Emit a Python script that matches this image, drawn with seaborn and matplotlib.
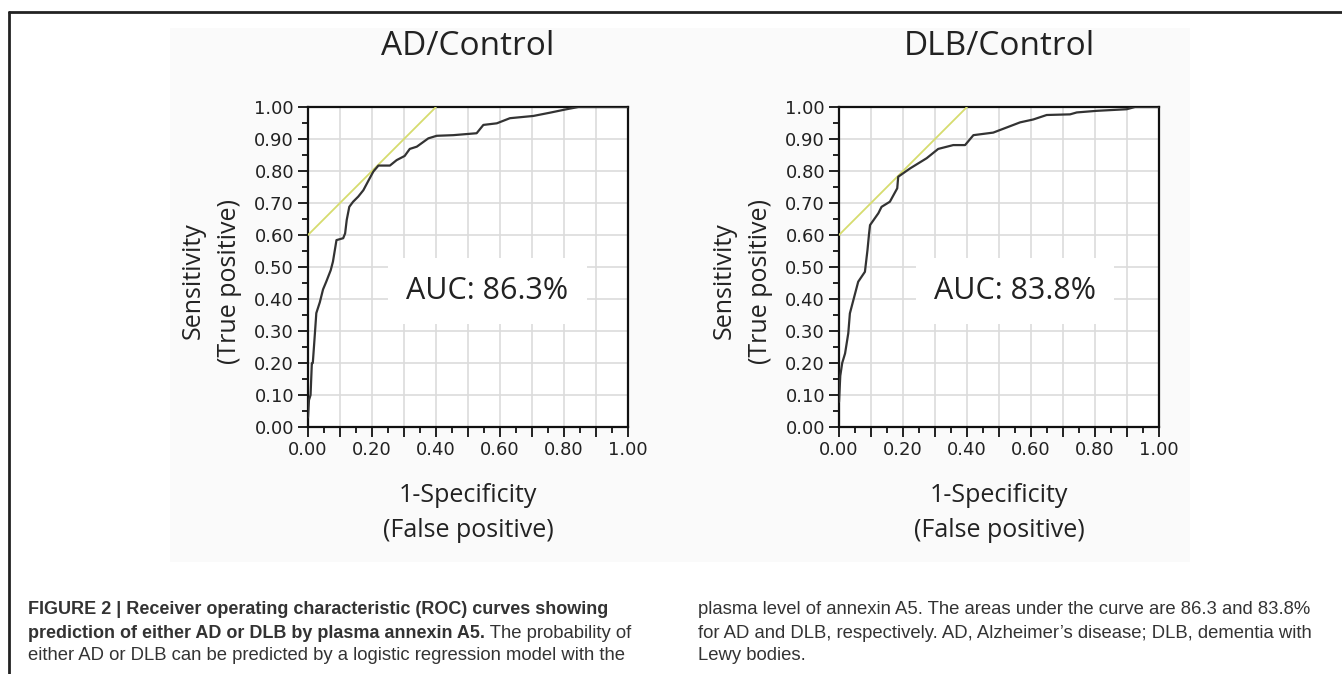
import matplotlib
matplotlib.use("Agg")

import matplotlib.pyplot as plt
from matplotlib.lines import Line2D
from matplotlib.patches import Rectangle
from matplotlib.ticker import MultipleLocator, FixedFormatter, FixedLocator
import pandas as pd
import seaborn as sns

# ROC points (false positive rate, true positive rate)
ad_fpr = [0.0, 0.0, 0.003, 0.008, 0.012, 0.015, 0.02, 0.026, 0.037, 0.047, 0.057, 0.071,
          0.078, 0.089, 0.11, 0.116, 0.121, 0.129, 0.141, 0.157, 0.173, 0.19, 0.204,
          0.22, 0.256, 0.277, 0.302, 0.318, 0.34, 0.376, 0.402, 0.454, 0.527, 0.548,
          0.59, 0.631, 0.704, 0.755, 0.808, 0.845, 1.0]
ad_tpr = [0.0, 0.06, 0.084, 0.10, 0.199, 0.20, 0.27, 0.356, 0.39, 0.43, 0.454, 0.49,
          0.517, 0.584, 0.59, 0.605, 0.647, 0.688, 0.704, 0.72, 0.74, 0.772, 0.798,
          0.817, 0.817, 0.834, 0.847, 0.869, 0.876, 0.902, 0.91, 0.912, 0.918, 0.944,
          0.949, 0.965, 0.972, 0.982, 0.993, 1.0, 1.0]

dlb_fpr = [0.0, 0.0, 0.004, 0.01, 0.019, 0.029, 0.034, 0.045, 0.06, 0.081, 0.089, 0.094,
           0.097, 0.123, 0.133, 0.159, 0.182, 0.185, 0.222, 0.274, 0.31, 0.357, 0.394,
           0.42, 0.482, 0.524, 0.566, 0.607, 0.649, 0.722, 0.743, 0.805, 0.899, 0.925, 1.0]
dlb_tpr = [0.0, 0.157, 0.16, 0.2, 0.23, 0.293, 0.355, 0.397, 0.454, 0.485, 0.553, 0.605,
           0.631, 0.668, 0.688, 0.704, 0.746, 0.782, 0.808, 0.84, 0.869, 0.881, 0.881,
           0.912, 0.92, 0.936, 0.952, 0.961, 0.975, 0.977, 0.983, 0.988, 0.993, 1.0, 1.0]

# yellow reference line
ref_x = [0.0, 0.4]
ref_y = [0.6, 1.0]

titles = ["AD/Control", "DLB/Control"]
auc_labels = ["AUC: 86.3%", "AUC: 83.8%"]
auc_pos = [(0.56, 0.425), (0.55, 0.425)]
xtick_labels = ["0.00", "", "0.20", "", "0.40", "", "0.60", "", "0.80", "", "1.00"]

sns.set_style("white")
plt.rcParams['font.family'] = ['DejaVu Sans']

fig = plt.figure(figsize=(13.42, 6.74), dpi=100)

# light panel behind the charts and the page frame
fig.add_artist(Rectangle((170 / 1342, 1 - 562 / 674), 1020 / 1342, 534 / 674,
                         transform=fig.transFigure, facecolor="#fafafa", edgecolor="none", zorder=0))
fig.add_artist(Line2D([9 / 1342, 1.0], [1 - 12 / 674, 1 - 12 / 674], color="#222222", lw=2))
fig.add_artist(Line2D([9 / 1342, 9 / 1342], [0, 1 - 12 / 674], color="#222222", lw=2))

ax_l = fig.add_axes([308 / 1342, 1 - 427 / 674, 320 / 1342, 320 / 674])
ax_r = fig.add_axes([839 / 1342, 1 - 427 / 674, 320 / 1342, 320 / 674])

curves = [(ad_fpr, ad_tpr), (dlb_fpr, dlb_tpr)]
for ax, (fpr, tpr), title, auc, pos in zip([ax_l, ax_r], curves, titles, auc_labels, auc_pos):
    df = pd.DataFrame({"fpr": fpr, "tpr": tpr})
    ax.set_facecolor("white")
    sns.lineplot(data=df, x="fpr", y="tpr", sort=False, color="#333333", lw=1.6, ax=ax, zorder=4)
    sns.lineplot(x=ref_x, y=ref_y, color="#d6dc6e", lw=1.3, ax=ax, zorder=3)

    ax.set_xlim(0, 1)
    ax.set_ylim(0, 1)
    ax.xaxis.set_major_locator(FixedLocator([i / 10 for i in range(11)]))
    ax.xaxis.set_major_formatter(FixedFormatter(xtick_labels))
    ax.yaxis.set_major_locator(MultipleLocator(0.1))
    ax.yaxis.set_major_formatter(matplotlib.ticker.FormatStrFormatter("%.2f"))
    ax.xaxis.set_minor_locator(MultipleLocator(0.05))
    ax.yaxis.set_minor_locator(MultipleLocator(0.05))
    ax.tick_params(which="major", direction="out", length=7, width=1.3, color="#111111",
                   labelsize=13, labelcolor="#222222", bottom=True, left=True, pad=3)
    ax.tick_params(which="minor", direction="out", length=4, width=1.3, color="#111111",
                   bottom=True, left=True)
    ax.grid(True, which="major", color="#dcdcdc", lw=1.2)
    ax.set_axisbelow(True)
    for s in ax.spines.values():
        s.set_color("#111111")
        s.set_linewidth(1.6)

    ax.set_xlabel("1-Specificity\n(False positive)", fontsize=18, family="Open Sans",
                  color="#222222", linespacing=1.55)
    ax.xaxis.set_label_coords(0.5, -0.175)
    ax.set_ylabel("Sensitivity\n(True positive)", fontsize=18, family="Open Sans",
                  color="#222222", linespacing=1.6)
    ax.yaxis.set_label_coords(-0.206, 0.456)

    ax.text(0.5, 1.19, title, transform=ax.transAxes, ha="center", va="center",
            fontsize=24, family="Open Sans", color="#222222")
    ax.text(pos[0], pos[1], auc, ha="center", va="center", fontsize=22,
            family="Open Sans", color="#222222", zorder=5,
            bbox=dict(boxstyle="square,pad=0.6", facecolor="white", edgecolor="none"))

# caption in two columns
cap = dict(fontsize=13.3, family="Liberation Sans", color="#333333", va="center", ha="left")
bold = dict(cap, fontsize=13, fontweight="bold")
fig.text(28 / 1342, 1 - 610 / 674,
         "FIGURE 2 | Receiver operating characteristic (ROC) curves showing", **bold)
t2 = fig.text(28 / 1342, 1 - 633 / 674,
              "prediction of either AD or DLB by plasma annexin A5.", **bold)
fig.text(28 / 1342, 1 - 656 / 674,
         "either AD or DLB can be predicted by a logistic regression model with the", **cap)
plt.annotate(" The probability of", xy=(1, 0), xycoords=t2, va="bottom", ha="left",
             fontsize=13.3, family="Liberation Sans", color="#333333")
fig.text(698 / 1342, 1 - 610 / 674,
         "plasma level of annexin A5. The areas under the curve are 86.3 and 83.8%", **cap)
fig.text(698 / 1342, 1 - 633 / 674,
         "for AD and DLB, respectively. AD, Alzheimer\u2019s disease; DLB, dementia with", **cap)
fig.text(698 / 1342, 1 - 656 / 674, "Lewy bodies.", **cap)

fig.savefig("out.png", dpi=100)
